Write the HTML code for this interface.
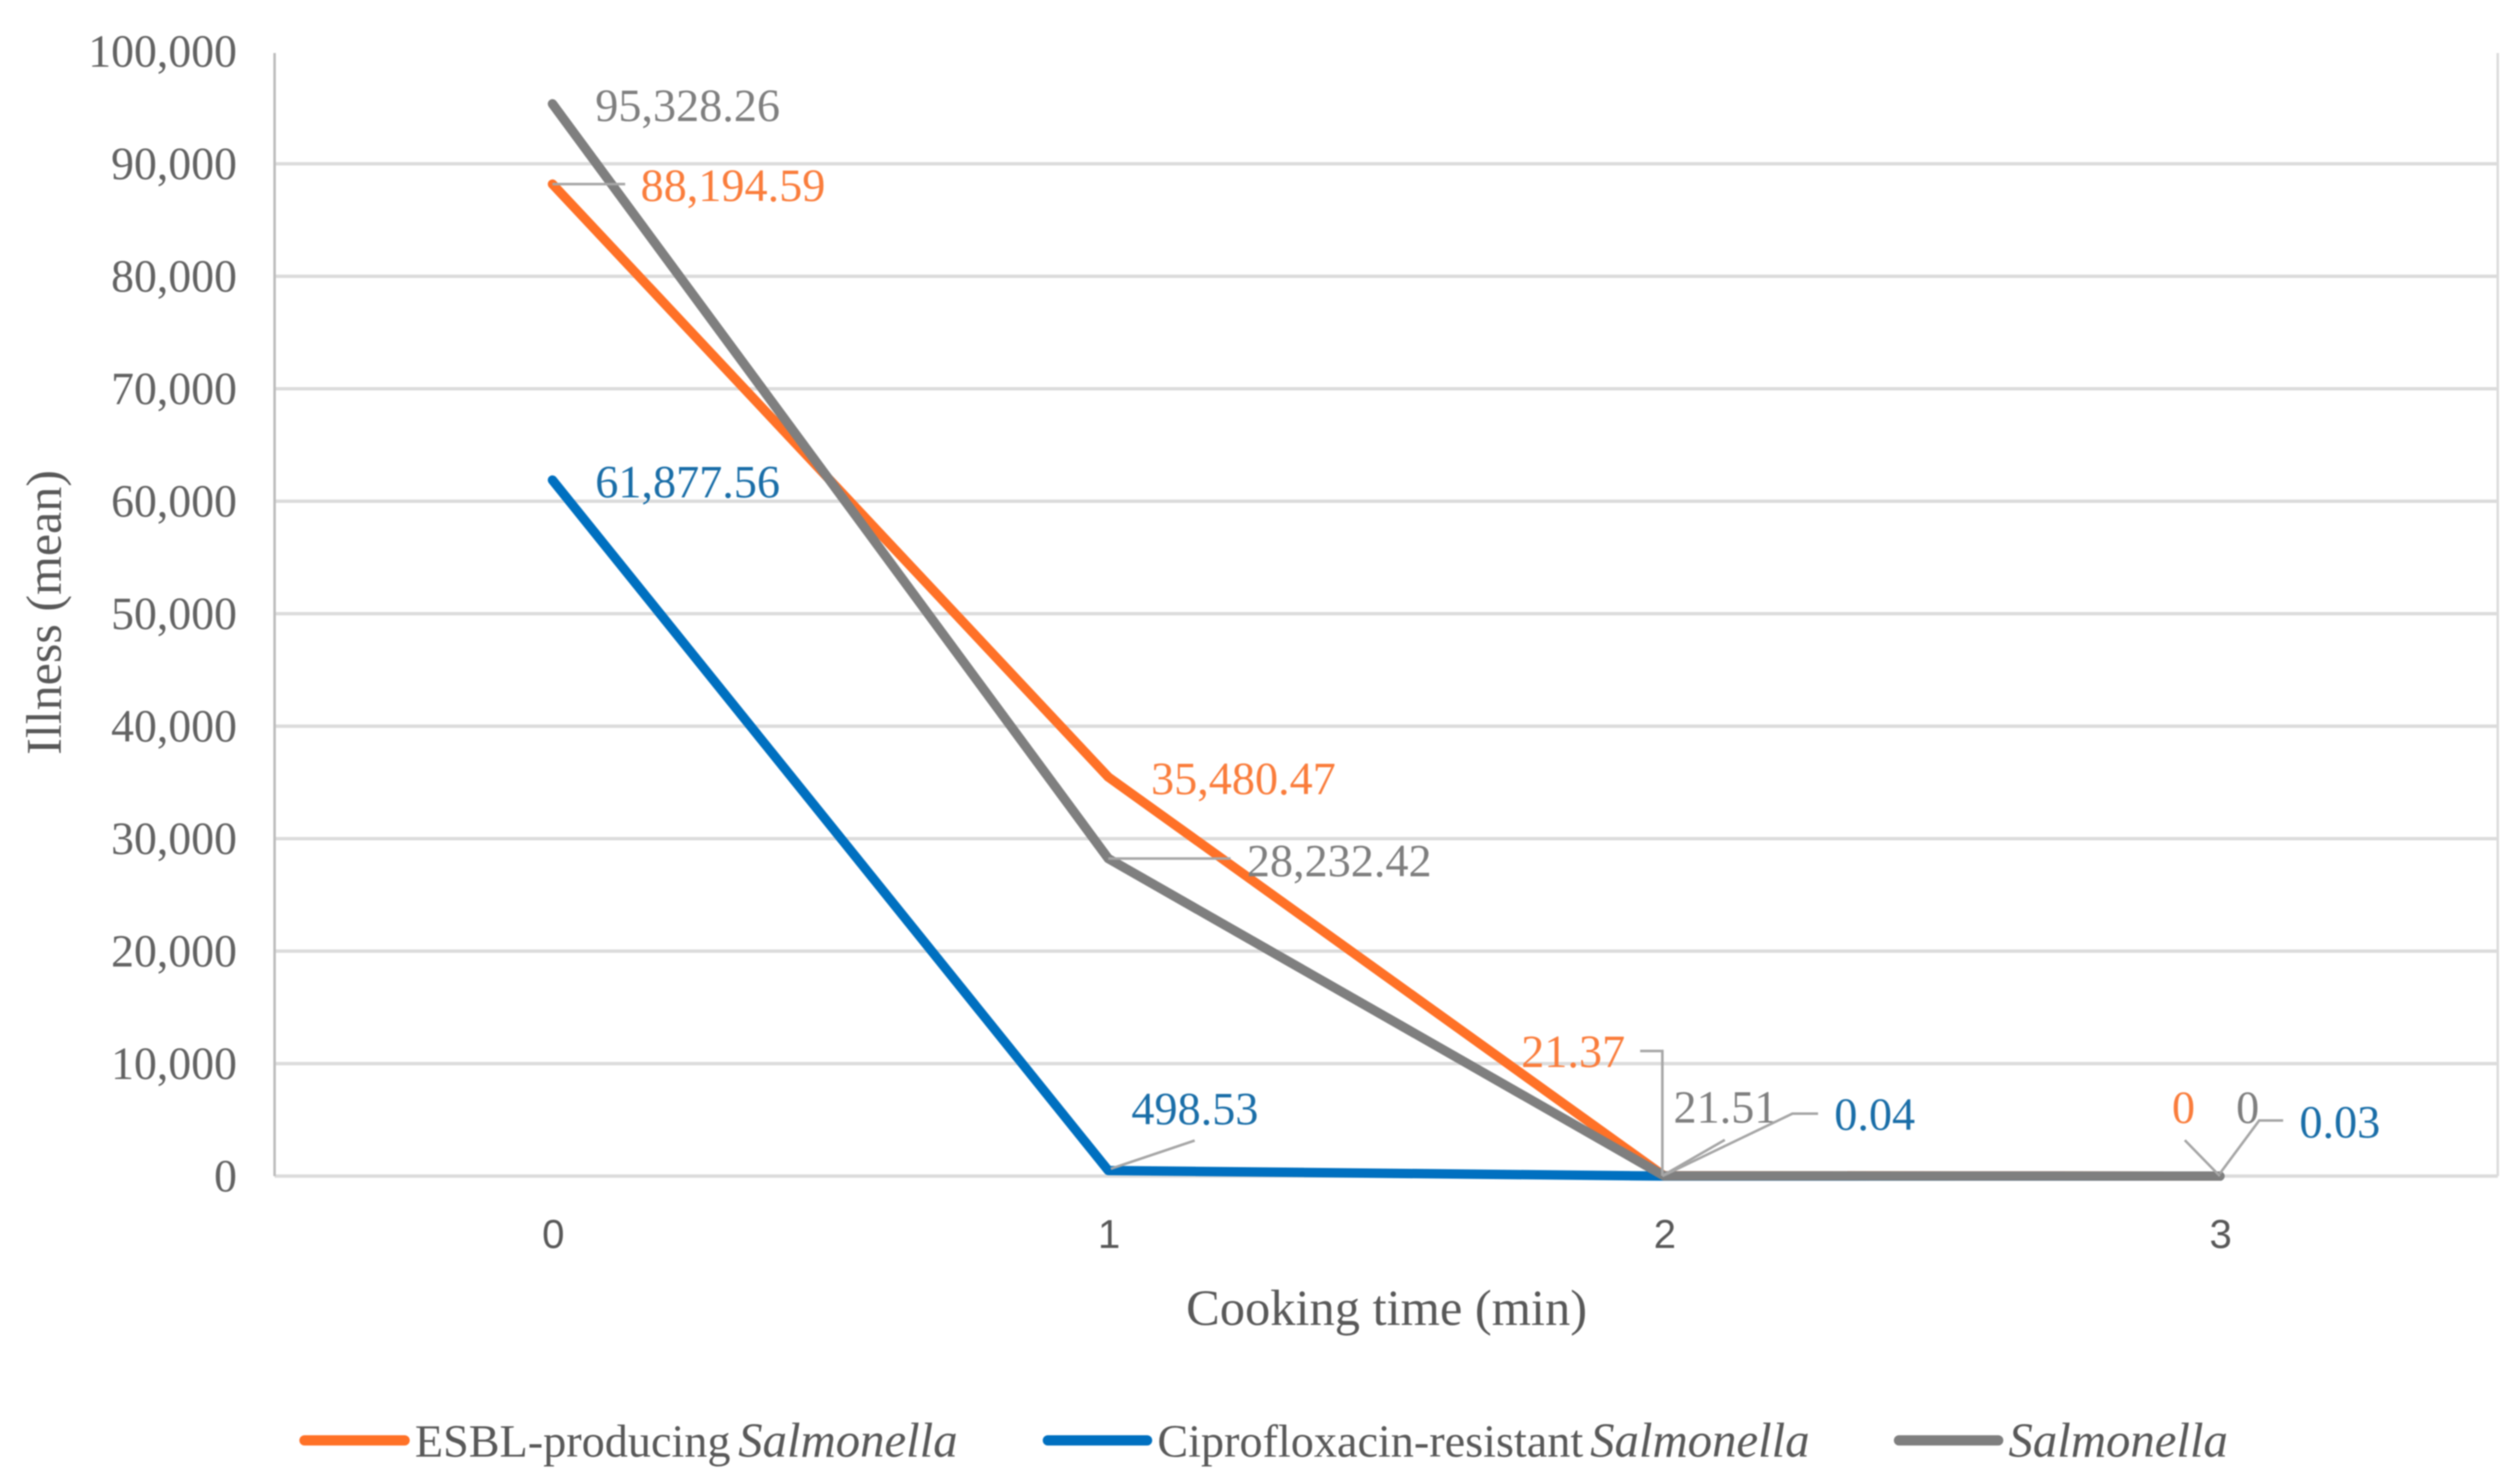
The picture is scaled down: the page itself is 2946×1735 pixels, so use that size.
<!DOCTYPE html>
<html lang="en">
<head>
<meta charset="utf-8">
<title>Illness by cooking time</title>
<style>
html,body{margin:0;padding:0;background:#fff;width:2946px;height:1735px;overflow:hidden}
svg{display:block;filter:blur(0.7px)}
text{font-family:"Liberation Serif",serif;font-size:54px}
</style>
</head>
<body>
<svg id="chart" xmlns="http://www.w3.org/2000/svg" width="2946" height="1735" viewBox="0 0 2946 1735">
  <rect width="2946" height="1735" fill="#fff"/>
  <g id="grid"></g>
  <g id="yticks"></g>
  <g id="xticks"></g>
  <g id="leaders"></g>
  <g id="series"></g>
  <g id="labels"></g>
  <text transform="translate(71,716) rotate(-90)" text-anchor="middle" fill="#595959" style="font-size:58.5px">Illness (mean)</text>
  <text x="1621" y="1549" text-anchor="middle" fill="#595959" style="font-size:59px">Cooking time (min)</text>
  <g>
    <g>
      <line x1="356" y1="1684" x2="473" y2="1684" stroke="#ff7127" stroke-width="12" stroke-linecap="round"/>
      <text y="1703" fill="#595959"><tspan x="485">ESBL-producing </tspan><tspan x="863" font-style="italic" style="font-size:57px">Salmonella</tspan></text>
    </g>
    <g>
      <line x1="1225" y1="1684" x2="1341" y2="1684" stroke="#0070c0" stroke-width="12" stroke-linecap="round"/>
      <text y="1703" fill="#595959"><tspan x="1353">Ciprofloxacin-resistant </tspan><tspan x="1859" font-style="italic" style="font-size:57px">Salmonella</tspan></text>
    </g>
    <g>
      <line x1="2220" y1="1684" x2="2336" y2="1684" stroke="#7f7f7f" stroke-width="12" stroke-linecap="round"/>
      <text y="1703" fill="#595959" font-style="italic" x="2348" style="font-size:57px">Salmonella</text>
    </g>
  </g>
</svg>
<script>
// Chart data
const categories = ['0', '1', '2', '3'];
const yTickValues = [0, 10000, 20000, 30000, 40000, 50000, 60000, 70000, 80000, 90000, 100000];
const esblValues = [88194.59, 35480.47, 21.37, 0];
const ciproValues = [61877.56, 498.53, 0.04, 0.03];
const salmonellaValues = [95328.26, 28232.42, 21.51, 0];

// Axis functions
const plotLeft = 321, plotRight = 2920, plotBottom = 1375, plotTop = 62;
const xStep = (plotRight - plotLeft) / categories.length;
function xScale(i) { return plotLeft + xStep * (i + 0.5); }
function yScale(v) { return plotBottom - v * 0.01315; }

const NS = 'http://www.w3.org/2000/svg';
function make(tag, parent, attrs) {
  const el = document.createElementNS(NS, tag);
  for (const k in attrs) el.setAttribute(k, attrs[k]);
  parent.appendChild(el);
  return el;
}
function fmt(v) {
  if (v === 0) return '0';
  return v.toLocaleString('en-US', {minimumFractionDigits: 2, maximumFractionDigits: 2});
}

const grid = document.getElementById('grid');
const yticks = document.getElementById('yticks');
const xticks = document.getElementById('xticks');
const seriesG = document.getElementById('series');
const labelsG = document.getElementById('labels');
const leadersG = document.getElementById('leaders');

// Gridlines and y ticks
yTickValues.forEach(function (t) {
  if (t < 100000) {
    const gl = make('line', grid, {x1: plotLeft, x2: plotRight, y1: yScale(t), y2: yScale(t), stroke: '#dcdcdc', 'stroke-width': 4});
    
    
  }
  const tx = make('text', yticks, {x: 277, y: yScale(t) + 18, 'text-anchor': 'end', fill: '#636363'});
  tx.style.fontSize = '53.5px';
  
  
  tx.textContent = t.toLocaleString('en-US');
});

const yAxis = make('line', grid, {x1: plotLeft, x2: plotLeft, y1: plotTop, y2: plotBottom, stroke: '#bdbdbd', 'stroke-width': 3});


const rightEdge = make('line', grid, {x1: plotRight, x2: plotRight, y1: plotTop, y2: plotBottom, stroke: '#dcdcdc', 'stroke-width': 3});



// X ticks
categories.forEach(function (c, i) {
  const tx = make('text', xticks, {x: xScale(i) + 1, y: 1459, 'text-anchor': 'middle', fill: '#595959'});
  tx.style.fontFamily = '"Liberation Sans", sans-serif';
  tx.style.fontSize = '47px';
  
  
  tx.textContent = c;
});

// Series definitions with label placement relative to each point (layout only)
const seriesDefs = [
  {key: 'esbl', values: esblValues, color: '#ff7127',
   place: [
     {dx: 103, dy: 20, leader: [[0, 0], [85, 0]]},
     {dx: 50, dy: 20, leader: null},
     {dx: -167, dy: -127, leader: [[-2, 0], [-2, -146], [-28, -146]]},
     {dx: -56, dy: -62, leader: [[0, 0], [-41, -42]]}
   ]},
  {key: 'cipro', values: ciproValues, color: '#0070c0',
   place: [
     {dx: 50, dy: 20, leader: null},
     {dx: 27, dy: -54, leader: [[3, -2], [101, -35]]},
     {dx: 199, dy: -54, leader: [[-2, 0], [150, -73], [180, -73]]},
     {dx: 93, dy: -45, leader: [[0, -3], [46, -65], [74, -65]]}
   ]},
  {key: 'salmonella', values: salmonellaValues, color: '#7f7f7f',
   place: [
     {dx: 50, dy: 20, leader: null},
     {dx: 162, dy: 21, leader: [[0, 0], [143, 0]]},
     {dx: 11, dy: -62, leader: [[-2, 0], [71, -42]]},
     {dx: 19, dy: -62, leader: null}
   ]}
];

// Leaders
seriesDefs.forEach(function (s) {
  s.values.forEach(function (v, i) {
    const lead = s.place[i].leader;
    if (!lead) return;
    const px = xScale(i), py = yScale(v);
    const pl = make('polyline', leadersG, {
      points: lead.map(function (p) { return (px + p[0]) + ',' + (py + p[1]); }).join(' '),
      fill: 'none', stroke: '#a6a6a6', 'stroke-width': 3
    });
    
    
  });
});

// Series lines
seriesDefs.forEach(function (s) {
  const pl = make('polyline', seriesG, {
    points: s.values.map(function (v, i) { return xScale(i) + ',' + yScale(v); }).join(' '),
    fill: 'none', stroke: s.color, 'stroke-width': 11, 'stroke-linejoin': 'round', 'stroke-linecap': 'round'
  });
  
  
});

// Leaders that sit on top of the lines
leadersG.parentNode.appendChild(leadersG);

// Data labels
seriesDefs.forEach(function (s) {
  const labelColor = s.key === 'cipro' ? '#1a6ea8' : s.key === 'esbl' ? '#fa7d3c' : '#7f7f7f';
  s.values.forEach(function (v, i) {
    const t = make('text', labelsG, {x: xScale(i) + s.place[i].dx, y: yScale(v) + s.place[i].dy, fill: labelColor});
    
    
    t.textContent = fmt(v);
  });
});
</script>
</body>
</html>
